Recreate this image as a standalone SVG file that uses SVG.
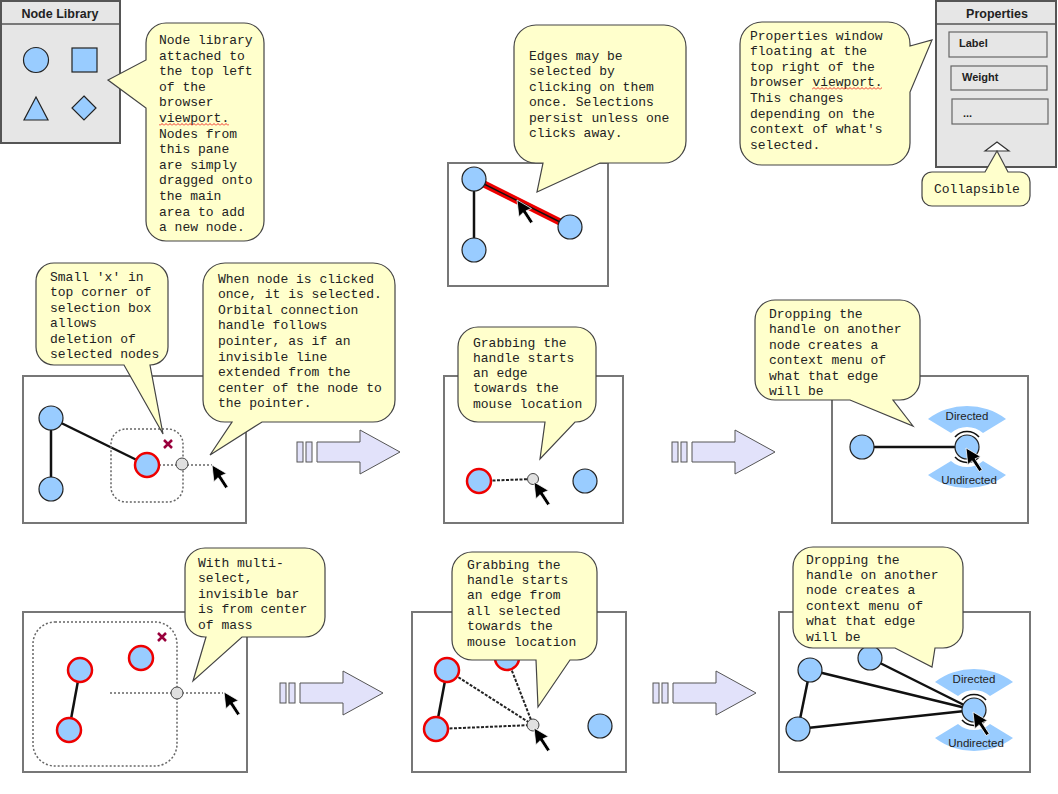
<svg xmlns="http://www.w3.org/2000/svg" xmlns:xlink="http://www.w3.org/1999/xlink" width="1058" height="794" viewBox="0 0 1058 794">
<style>
.bg{fill:#fff}
.box{fill:#fff;stroke:#777;stroke-width:2}
.panel{fill:#e6e6e6;stroke:#555;stroke-width:2}
.field{fill:#e6e6e6;stroke:#666;stroke-width:1.2}
.ptitle{font-family:"Liberation Sans",Arial,sans-serif;font-size:12.5px;font-weight:bold;fill:#222;text-anchor:middle}
.ftext{font-family:"Liberation Sans",Arial,sans-serif;font-size:11px;font-weight:bold;fill:#222}
.node{fill:#99ccff;stroke:#222;stroke-width:1.2}
.sel{fill:#99ccff;stroke:#ee0000;stroke-width:2.5}
.bubble{fill:#ffffcc;stroke:#444;stroke-width:1.2}
.t{font-family:"Liberation Mono","Courier New",monospace;font-size:13px;fill:#222}
.edge{stroke:#111;stroke-width:2.5;fill:none}
.dot{stroke:#666;stroke-width:1.5;stroke-dasharray:2 2;fill:none}
.dash{stroke:#222;stroke-width:2;stroke-dasharray:3 1.5;fill:none}
.handle{fill:#e0e0e0;stroke:#444;stroke-width:1}
.arrow{fill:#e2e2fa;stroke:#555;stroke-width:1}
.xm{stroke:#99003c;stroke-width:2.5}
.menu{fill:#99ccff}
.mt{font-family:"Liberation Sans",Arial,sans-serif;font-size:11.5px;fill:#222;text-anchor:middle}
</style>
<defs>
<path id="cur" transform="rotate(-33)" d="M0,0 L7.5,15 L1.8,14 L1.8,27 L-1.8,27 L-1.8,14 L-7.5,15 Z" fill="#000" stroke="#fff" stroke-width="0.7"/>
<g id="arr">
<rect class="arrow" x="0" y="-10" width="6" height="20"/>
<rect class="arrow" x="9" y="-10" width="6" height="20"/>
<polygon class="arrow" points="20,-10 63,-10 63,-22 103,0 63,22 63,10 20,10"/>
</g>
<g id="ctx">
<path class="menu" d="M-39,-28 A65,65 0 0 1 39,-28 L16,-14 A24,24 0 0 0 -16,-14 Z"/>
<path class="menu" d="M-39,28 A65,65 0 0 0 39,28 L16,14 A24,24 0 0 1 -16,14 Z"/>
<path d="M-12,-10 A16,16 0 0 1 12,-10" fill="none" stroke="#111" stroke-width="1.5"/>
<path d="M-12,10 A16,16 0 0 0 12,10" fill="none" stroke="#111" stroke-width="1.5"/>
<text class="mt" x="0" y="-27">Directed</text>
<text class="mt" x="2" y="37">Undirected</text>
</g>
<pattern id="sq" width="4" height="3" patternUnits="userSpaceOnUse"><path d="M0,2.5 L2,0.5 L4,2.5" fill="none" stroke="#e00" stroke-width="0.8"/></pattern>
</defs>
<rect class="bg" x="0" y="0" width="1058" height="794"/>

<!-- Node library panel -->
<g id="node-library">
<rect class="panel" x="1" y="1" width="119" height="142"/>
<line x1="1" y1="24" x2="120" y2="24" stroke="#555" stroke-width="1.5"/>
<text class="ptitle" x="60" y="18">Node Library</text>
<circle class="node" cx="36" cy="60" r="12.5"/>
<rect class="node" x="72" y="48" width="25" height="24"/>
<polygon class="node" points="36,97 48,120 24,120"/>
<polygon class="node" points="84,96 96,108 84,120 72,108"/>
</g>

<!-- Properties panel -->
<g id="properties">
<rect class="panel" x="936" y="1" width="120" height="166"/>
<line x1="936" y1="24" x2="1056" y2="24" stroke="#555" stroke-width="1.5"/>
<text class="ptitle" x="997" y="18">Properties</text>
<rect class="field" x="949" y="32" width="98" height="25"/>
<text class="ftext" x="959" y="47">Label</text>
<rect class="field" x="951" y="66" width="96" height="24" stroke="#222"/>
<text class="ftext" x="962" y="81">Weight</text>
<rect class="field" x="952" y="99" width="96" height="25" stroke="#444"/>
<text class="ftext" x="963" y="117">...</text>
<polygon points="985,151 997,142 1009,151" fill="#fff" stroke="#333" stroke-width="1.2"/>
</g>

<!-- Panels / boxes -->
<g id="box-edge"><rect class="box" x="448" y="163" width="160" height="123"/></g>
<g id="box-a"><rect class="box" x="23" y="376" width="223" height="147"/></g>
<g id="box-b"><rect class="box" x="444" y="376" width="179" height="147"/></g>
<g id="box-c"><rect class="box" x="832" y="376" width="196" height="147"/></g>
<g id="box-d"><rect class="box" x="23" y="612" width="224" height="160"/></g>
<g id="box-e"><rect class="box" x="412" y="612" width="214" height="160"/></g>
<g id="box-f"><rect class="box" x="779" y="612" width="251" height="160"/></g>

<!-- Connectors -->
<g id="connectors">
<line x1="474" y1="179" x2="570" y2="227" stroke="#ee0000" stroke-width="7"/>
<line x1="474" y1="179" x2="570" y2="227" stroke="#111" stroke-width="1.5"/>
<line class="edge" x1="474" y1="179" x2="474" y2="250"/>
<line class="edge" x1="51" y1="418" x2="51" y2="489"/>
<line class="edge" x1="51" y1="418" x2="147" y2="465"/>
<line class="dot" x1="159" y1="465" x2="212" y2="465"/>
<line class="dash" x1="479" y1="481" x2="533" y2="479"/>
<line class="edge" x1="862" y1="447" x2="967" y2="447"/>
<line class="edge" x1="80" y1="670" x2="69" y2="730"/>
<line class="dot" x1="110" y1="693" x2="223" y2="693"/>
<line class="edge" x1="447" y1="670" x2="436" y2="729"/>
<line class="dash" x1="447" y1="670" x2="533" y2="725"/>
<line class="dash" x1="507" y1="658" x2="533" y2="725"/>
<line class="dash" x1="436" y1="729" x2="533" y2="725"/>
<line class="edge" x1="810" y1="670" x2="798" y2="729"/>
<line class="edge" x1="810" y1="670" x2="974" y2="710"/>
<line class="edge" x1="870" y1="658" x2="974" y2="710"/>
<line class="edge" x1="798" y1="729" x2="974" y2="710"/>
</g>

<!-- Edge selection example -->
<g id="edge-nodes">
<circle class="node" cx="474" cy="179" r="12"/>
<circle class="node" cx="474" cy="250" r="12"/>
<circle class="node" cx="570" cy="227" r="12"/>
<use xlink:href="#cur" transform="translate(517,200)"/>
</g>

<!-- Box A -->
<g id="a-nodes">
<rect x="111" y="429" width="72" height="73" rx="15" class="dot"/>
<circle class="node" cx="51" cy="418" r="12"/>
<circle class="node" cx="51" cy="489" r="12"/>
<circle class="sel" cx="147" cy="465" r="12"/>
<path class="xm" d="M164,440 L172,448 M172,440 L164,448"/>
<circle class="handle" cx="182" cy="464" r="6"/>
<use xlink:href="#cur" transform="translate(212,465)"/>
</g>

<!-- Box B -->
<g id="b-nodes">
<circle class="sel" cx="479" cy="481" r="12"/>
<circle class="handle" cx="533" cy="479" r="5.5"/>
<circle class="node" cx="585" cy="481" r="12"/>
<use xlink:href="#cur" transform="translate(534,482)"/>
</g>

<!-- Box C -->
<g id="c-nodes">
<circle class="node" cx="862" cy="447" r="12"/>
<use xlink:href="#ctx" transform="translate(967,447)"/>
<circle class="node" cx="967" cy="447" r="12"/>
<use xlink:href="#cur" transform="translate(966,448)"/>
</g>

<!-- Box D -->
<g id="d-nodes">
<rect x="33" y="622" width="144" height="144" rx="22" class="dot"/>
<circle class="sel" cx="80" cy="670" r="12"/>
<circle class="sel" cx="69" cy="730" r="12"/>
<circle class="sel" cx="141" cy="658" r="12"/>
<path class="xm" d="M158,633 L166,641 M166,633 L158,641"/>
<circle class="handle" cx="177" cy="693" r="6"/>
<use xlink:href="#cur" transform="translate(224,692)"/>
</g>

<!-- Box E -->
<g id="e-nodes">
<circle class="sel" cx="447" cy="670" r="12"/>
<circle class="sel" cx="436" cy="729" r="12"/>
<circle class="sel" cx="507" cy="658" r="12"/>
<circle class="node" cx="600" cy="726" r="12"/>
<circle class="handle" cx="533" cy="725" r="6"/>
<use xlink:href="#cur" transform="translate(534,728)"/>
</g>

<!-- Box F -->
<g id="f-nodes">
<circle class="node" cx="810" cy="670" r="12"/>
<circle class="node" cx="798" cy="729" r="12"/>
<circle class="node" cx="870" cy="658" r="12"/>
<use xlink:href="#ctx" transform="translate(974,710)"/>
<circle class="node" cx="974" cy="710" r="12"/>
<use xlink:href="#cur" transform="translate(973,712)"/>
</g>

<!-- Arrows -->
<g id="arrow-1"><use xlink:href="#arr" transform="translate(297,452)"/></g>
<g id="arrow-2"><use xlink:href="#arr" transform="translate(672,452)"/></g>
<g id="arrow-3"><use xlink:href="#arr" transform="translate(280,693)"/></g>
<g id="arrow-4"><use xlink:href="#arr" transform="translate(653,693)"/></g>

<!-- Callouts -->
<g id="callout-library">
<path class="bubble" d="M166,23 H244 A20,20 0 0 1 264,43 V221 A20,20 0 0 1 244,241 H166 A20,20 0 0 1 146,221 V108 L108,80 L146,60 V43 A20,20 0 0 1 166,23 Z"/>
<text class="t"><tspan x="159" y="44">Node library</tspan><tspan x="159" dy="15.6">attached to</tspan><tspan x="159" dy="15.6">the top left</tspan><tspan x="159" dy="15.6">of the</tspan><tspan x="159" dy="15.6">browser</tspan><tspan x="159" dy="15.6">viewport.</tspan><tspan x="159" dy="15.6">Nodes from</tspan><tspan x="159" dy="15.6">this pane</tspan><tspan x="159" dy="15.6">are simply</tspan><tspan x="159" dy="15.6">dragged onto</tspan><tspan x="159" dy="15.6">the main</tspan><tspan x="159" dy="15.6">area to add</tspan><tspan x="159" dy="15.6">a new node.</tspan></text>
<rect x="159" y="123" width="70" height="3" fill="url(#sq)"/>
</g>

<g id="callout-edges">
<path class="bubble" d="M536,25 H664 A22,22 0 0 1 686,47 V141 A22,22 0 0 1 664,163 H600 L537,192 L543,163 H536 A22,22 0 0 1 514,141 V47 A22,22 0 0 1 536,25 Z"/>
<text class="t"><tspan x="529" y="59.5">Edges may be</tspan><tspan x="529" dy="15.5">selected by</tspan><tspan x="529" dy="15.5">clicking on them</tspan><tspan x="529" dy="15.5">once. Selections</tspan><tspan x="529" dy="15.5">persist unless one</tspan><tspan x="529" dy="15.5">clicks away.</tspan></text>
</g>

<g id="callout-properties">
<path class="bubble" d="M762,22 H888 A22,22 0 0 1 910,44 V46 L932,40 L910,92 V143 A22,22 0 0 1 888,165 H762 A22,22 0 0 1 740,143 V44 A22,22 0 0 1 762,22 Z"/>
<text class="t"><tspan x="750" y="39.5">Properties window</tspan><tspan x="750" dy="15.6">floating at the</tspan><tspan x="750" dy="15.6">top right of the</tspan><tspan x="750" dy="15.6">browser viewport.</tspan><tspan x="750" dy="15.6">This changes</tspan><tspan x="750" dy="15.6">depending on the</tspan><tspan x="750" dy="15.6">context of what's</tspan><tspan x="750" dy="15.6">selected.</tspan></text>
<rect x="812" y="87" width="70" height="3" fill="url(#sq)"/>
</g>

<g id="callout-collapsible">
<path class="bubble" d="M932,172 H985 L997,151 L1008,172 H1020 A10,10 0 0 1 1030,182 V196 A10,10 0 0 1 1020,206 H932 A10,10 0 0 1 922,196 V182 A10,10 0 0 1 932,172 Z"/>
<text class="t" x="934" y="192.5">Collapsible</text>
</g>

<g id="callout-x">
<path class="bubble" d="M54,263 H150 A18,18 0 0 1 168,281 V347 A18,18 0 0 1 150,365 L163,434 L124,365 H54 A18,18 0 0 1 36,347 V281 A18,18 0 0 1 54,263 Z"/>
<text class="t"><tspan x="50" y="280.5">Small 'x' in</tspan><tspan x="50" dy="15.5">top corner of</tspan><tspan x="50" dy="15.5">selection box</tspan><tspan x="50" dy="15.5">allows</tspan><tspan x="50" dy="15.5">deletion of</tspan><tspan x="50" dy="15.5">selected nodes</tspan></text>
</g>

<g id="callout-click">
<path class="bubble" d="M225,263 H373 A22,22 0 0 1 395,285 V400 A22,22 0 0 1 373,422 H262 L210,455 L232,422 H225 A22,22 0 0 1 203,400 V285 A22,22 0 0 1 225,263 Z"/>
<text class="t"><tspan x="218" y="282.5">When node is clicked</tspan><tspan x="218" dy="15.6">once, it is selected.</tspan><tspan x="218" dy="15.6">Orbital connection</tspan><tspan x="218" dy="15.6">handle follows</tspan><tspan x="218" dy="15.6">pointer, as if an</tspan><tspan x="218" dy="15.6">invisible line</tspan><tspan x="218" dy="15.6">extended from the</tspan><tspan x="218" dy="15.6">center of the node to</tspan><tspan x="218" dy="15.6">the pointer.</tspan></text>
</g>

<g id="callout-grab1">
<path class="bubble" d="M478,327 H576 A20,20 0 0 1 596,347 V402 A20,20 0 0 1 576,422 H575 L540,459 L545,422 H478 A20,20 0 0 1 458,402 V347 A20,20 0 0 1 478,327 Z"/>
<text class="t"><tspan x="473" y="346.5">Grabbing the</tspan><tspan x="473" dy="15.3">handle starts</tspan><tspan x="473" dy="15.3">an edge</tspan><tspan x="473" dy="15.3">towards the</tspan><tspan x="473" dy="15.3">mouse location</tspan></text>
</g>

<g id="callout-drop1">
<path class="bubble" d="M775,300 H900 A20,20 0 0 1 920,320 V380 A20,20 0 0 1 900,400 H893 L913,426 L850,400 H775 A20,20 0 0 1 755,380 V320 A20,20 0 0 1 775,300 Z"/>
<text class="t"><tspan x="769" y="317.5">Dropping the</tspan><tspan x="769" dy="15.5">handle on another</tspan><tspan x="769" dy="15.5">node creates a</tspan><tspan x="769" dy="15.5">context menu of</tspan><tspan x="769" dy="15.5">what that edge</tspan><tspan x="769" dy="15.5">will be</tspan></text>
</g>

<g id="callout-multi">
<path class="bubble" d="M205,548 H305 A20,20 0 0 1 325,568 V617 A20,20 0 0 1 305,637 H242 L193,681 L206,637 H205 A20,20 0 0 1 185,617 V568 A20,20 0 0 1 205,548 Z"/>
<text class="t"><tspan x="198" y="566.5">With multi-</tspan><tspan x="198" dy="15.5">select,</tspan><tspan x="198" dy="15.5">invisible bar</tspan><tspan x="198" dy="15.5">is from center</tspan><tspan x="198" dy="15.5">of mass</tspan></text>
</g>

<g id="callout-grab2">
<path class="bubble" d="M472,552 H577 A20,20 0 0 1 597,572 V640 A20,20 0 0 1 577,660 H570 L538,707 L536,660 H472 A20,20 0 0 1 452,640 V572 A20,20 0 0 1 472,552 Z"/>
<text class="t"><tspan x="467" y="568.5">Grabbing the</tspan><tspan x="467" dy="15.4">handle starts</tspan><tspan x="467" dy="15.4">an edge from</tspan><tspan x="467" dy="15.4">all selected</tspan><tspan x="467" dy="15.4">towards the</tspan><tspan x="467" dy="15.4">mouse location</tspan></text>
</g>

<g id="callout-drop2">
<path class="bubble" d="M813,547 H943 A20,20 0 0 1 963,567 V628 A20,20 0 0 1 943,648 H935 L932,667 L895,648 H813 A20,20 0 0 1 793,628 V567 A20,20 0 0 1 813,547 Z"/>
<text class="t"><tspan x="806" y="563.5">Dropping the</tspan><tspan x="806" dy="15.4">handle on another</tspan><tspan x="806" dy="15.4">node creates a</tspan><tspan x="806" dy="15.4">context menu of</tspan><tspan x="806" dy="15.4">what that edge</tspan><tspan x="806" dy="15.4">will be</tspan></text>
</g>
</svg>
